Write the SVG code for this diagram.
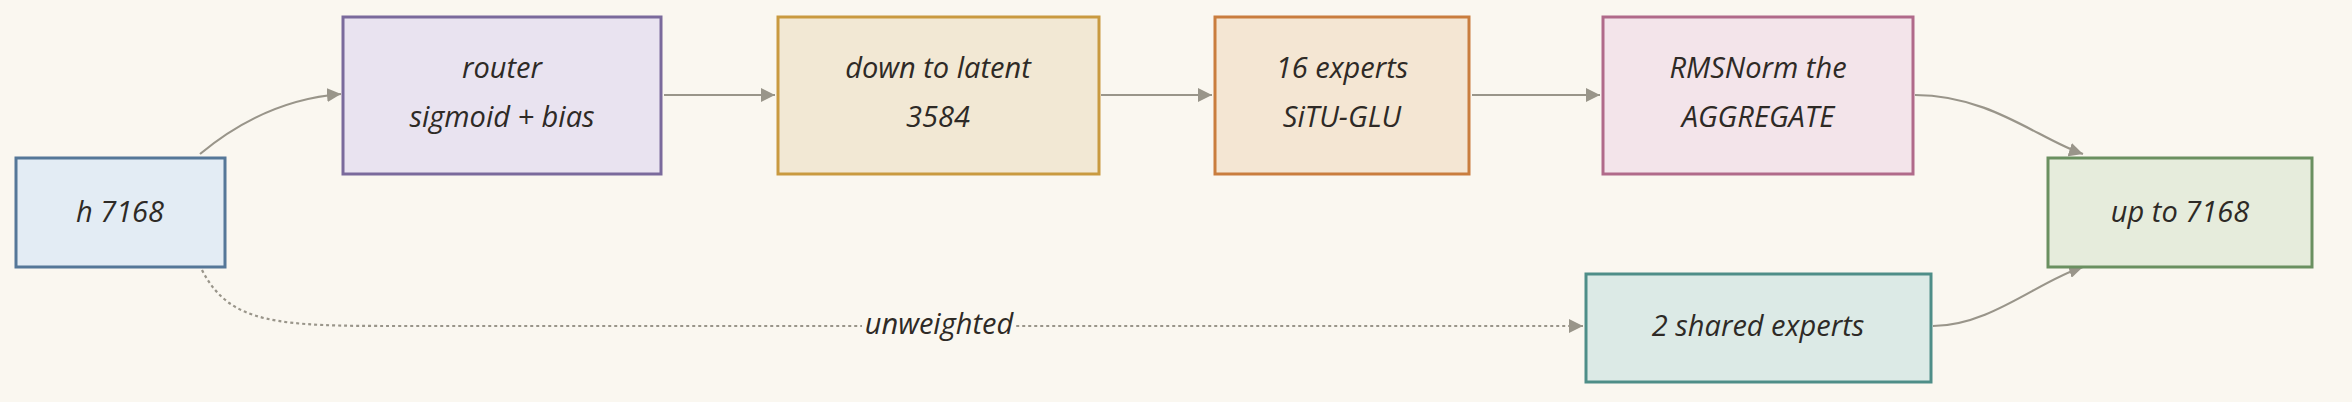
<svg xmlns="http://www.w3.org/2000/svg" width="2352" height="402" viewBox="0 0 2352 402">
<style>
.n{stroke-width:3}
.t{font-family:"Open Sans","Liberation Sans",sans-serif;font-style:italic;font-size:29px;fill:#2e2a26;text-anchor:middle}
.c{fill:none;stroke:#99958a;stroke-width:2.2}
.d{stroke-dasharray:3 3}
</style>
<defs>
<marker id="a" viewBox="0 0 10 10" refX="10" refY="5" markerWidth="14" markerHeight="14" orient="auto" markerUnits="userSpaceOnUse">
<path d="M0,0 L10,5 L0,10 z" fill="#99958a"/>
</marker>
</defs>
<rect width="2352" height="402" fill="#faf7f0"/>
<g id="connectors">
<path class="c" d="M200,154 Q265,100 341,94" marker-end="url(#a)"/>
<path class="c" d="M664,95 L775,95" marker-end="url(#a)"/>
<path class="c" d="M1101,95 L1212,95" marker-end="url(#a)"/>
<path class="c" d="M1472,95 L1600,95" marker-end="url(#a)"/>
<path class="c" d="M1915,95 C1990,95 2040,140 2083,154" marker-end="url(#a)"/>
<path class="c" d="M1933,326 C1990,326 2040,280 2083,267" marker-end="url(#a)"/>
<path class="c d" d="M202,270 C230,325 280,326 400,326 L1583,326" marker-end="url(#a)"/>
<rect x="862" y="308" width="154" height="36" fill="#faf7f0"/>
<text class="t" x="939" y="334">unweighted</text>
</g>
<g id="h"><rect class="n" x="16" y="158" width="209" height="109" fill="#e3ecf4" stroke="#557798"/><text class="t" x="120" y="222">h 7168</text></g>
<g id="router"><rect class="n" x="343" y="17" width="318" height="157" fill="#e9e3f0" stroke="#7a6a9c"/><text class="t" x="502" y="78">router</text><text class="t" x="502" y="127">sigmoid + bias</text></g>
<g id="down"><rect class="n" x="778" y="17" width="321" height="157" fill="#f2e8d4" stroke="#c99a40"/><text class="t" x="938" y="78">down to latent</text><text class="t" x="938" y="127">3584</text></g>
<g id="experts"><rect class="n" x="1215" y="17" width="254" height="157" fill="#f4e6d3" stroke="#c97d3e"/><text class="t" x="1342" y="78">16 experts</text><text class="t" x="1342" y="127">SiTU-GLU</text></g>
<g id="rmsnorm"><rect class="n" x="1603" y="17" width="310" height="157" fill="#f3e4ea" stroke="#b06a8a"/><text class="t" x="1758" y="78">RMSNorm the</text><text class="t" x="1758" y="127">AGGREGATE</text></g>
<g id="up"><rect class="n" x="2048" y="158" width="264" height="109" fill="#e6ecdc" stroke="#6a9060"/><text class="t" x="2180" y="222">up to 7168</text></g>
<g id="shared"><rect class="n" x="1586" y="274" width="345" height="108" fill="#dceae6" stroke="#4e8e88"/><text class="t" x="1758" y="336">2 shared experts</text></g>
</svg>
